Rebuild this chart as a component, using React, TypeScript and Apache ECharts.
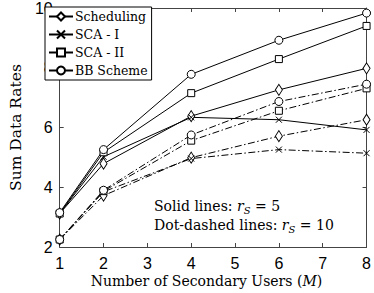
import React, { useEffect, useRef } from "react";
import * as echarts from "echarts";

const xValues = [1, 2, 4, 6, 8];
const schedSolid = [3.12, 4.79, 6.38, 7.26, 7.98];
const sca1Solid = [3.12, 5.02, 6.34, 6.26, 5.92];
const sca2Solid = [3.12, 5.17, 7.15, 8.29, 9.4];
const bbSolid = [3.15, 5.26, 7.78, 8.92, 9.83];
const schedDash = [2.25, 3.72, 4.99, 5.71, 6.26];
const sca1Dash = [2.25, 3.85, 4.96, 5.26, 5.14];
const sca2Dash = [2.25, 3.87, 5.56, 6.56, 7.31];
const bbDash = [2.25, 3.9, 5.75, 6.87, 7.45];
const legendNames = ["Scheduling", "SCA - I", "SCA - II", "BB Scheme"];

const CROSS = "path://M0,0L10,10M10,0L0,10";
const serif = "DejaVu Serif";
const sans = "Liberation Sans";

export default function App() {
  const ref = useRef<HTMLDivElement>(null);
  useEffect(() => {
    const chart = echarts.init(ref.current!, undefined, { renderer: "svg" });
    const dashType: any = [7, 2.5, 1.5, 2.5];
    const mk = (name: string, vals: number[], symbol: string, size: any, dashed: boolean) => ({
      type: "line",
      name,
      data: vals.map((v, i) => [xValues[i], v]),
      symbol,
      symbolSize: size,
      showAllSymbol: true,
      lineStyle: { color: "#000", width: 1, type: dashed ? dashType : "solid" },
      itemStyle: { color: "#fff", borderColor: "#000", borderWidth: 1 },
      z: 3,
    });
    const diamondSize = [7, 11];
    const axisColor = "#444";
    chart.setOption({
      animation: false,
      backgroundColor: "#fff",
      grid: { left: 45, right: 6, top: 7, bottom: 46 },
      legend: {
        data: legendNames,
        orient: "vertical",
        left: 45,
        top: 7,
        itemGap: 5,
        itemWidth: 24,
        itemHeight: 10,
        padding: [3, 4, 3, 3],
        borderColor: "#000",
        borderWidth: 1,
        borderRadius: 0,
        backgroundColor: "#fff",
        textStyle: { fontFamily: serif, fontSize: 12.5, lineHeight: 13, color: "#000", padding: [0, 0, 0, -3] },
      },
      xAxis: [
        {
          type: "value",
          min: 1,
          max: 8,
          interval: 1,
          axisLine: { lineStyle: { color: axisColor } },
          axisTick: { inside: true, length: 4, lineStyle: { color: axisColor } },
          axisLabel: { fontFamily: sans, fontSize: 16, color: "#000", margin: 8 },
          splitLine: { show: false },
        },
        {
          type: "value",
          min: 1,
          max: 8,
          interval: 1,
          position: "top",
          axisLine: { show: true, lineStyle: { color: axisColor } },
          axisTick: { show: true, inside: true, length: 4, lineStyle: { color: axisColor } },
          axisLabel: { show: false },
          splitLine: { show: false },
        },
      ],
      yAxis: [
        {
          type: "value",
          min: 2,
          max: 10,
          interval: 2,
          name: "Sum Data Rates",
          nameLocation: "middle",
          nameGap: 29,
          nameTextStyle: { fontFamily: serif, fontSize: 15.5, color: "#000" },
          axisLine: { show: true, lineStyle: { color: axisColor } },
          axisTick: { show: true, inside: true, length: 4, lineStyle: { color: axisColor } },
          axisLabel: { fontFamily: sans, fontSize: 16, color: "#000", margin: 7 },
          splitLine: { show: false },
        },
        {
          type: "value",
          min: 2,
          max: 10,
          interval: 2,
          position: "right",
          axisLine: { show: true, lineStyle: { color: axisColor } },
          axisTick: { show: true, inside: true, length: 4, lineStyle: { color: axisColor } },
          axisLabel: { show: false },
          splitLine: { show: false },
        },
      ],
      series: [
        mk("Scheduling", schedSolid, "diamond", diamondSize, false),
        mk("SCA - I", sca1Solid, CROSS, 6, false),
        mk("SCA - II", sca2Solid, "rect", 7, false),
        mk("BB Scheme", bbSolid, "circle", 8, false),
        mk("Scheduling r10", schedDash, "diamond", diamondSize, true),
        mk("SCA - I r10", sca1Dash, CROSS, 6, true),
        mk("SCA - II r10", sca2Dash, "rect", 7, true),
        mk("BB Scheme r10", bbDash, "circle", 8, true),
      ],
      graphic: [
        {
          type: "text",
          x: 206.5,
          y: 281,
          style: {
            text: "{a|Number of Secondary Users (}{i|M}{a|)}",
            align: "center",
            verticalAlign: "middle",
            rich: {
              a: { fontFamily: serif, fontSize: 14, fill: "#000" },
              i: { fontFamily: serif, fontStyle: "italic", fontSize: 14, fill: "#000" },
            },
          },
        },
        {
          type: "text",
          left: 154,
          top: 199,
          style: {
            text: "{a|Solid lines: }{i|r}{s|S}{a| = 5}\n{a|Dot-dashed lines: }{i|r}{s|S}{a| = 10}",
            rich: {
              a: { fontFamily: serif, fontSize: 14, fill: "#000", lineHeight: 19 },
              i: { fontFamily: serif, fontStyle: "italic", fontSize: 14, fill: "#000", lineHeight: 19 },
              s: { fontFamily: serif, fontStyle: "italic", fontSize: 10, fill: "#000", lineHeight: 19, verticalAlign: "bottom", padding: [6, 0, 0, 0] },
            },
          },
        },
      ],
    });
    return () => chart.dispose();
  }, []);
  return <div ref={ref} style={{ width: 374, height: 293, position: "absolute", left: 0, top: 0 }} />;
}
